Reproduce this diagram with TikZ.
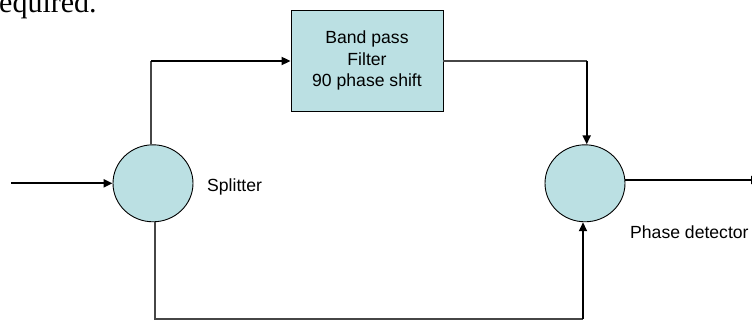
\documentclass[tikz,border=0pt]{standalone}
\usepackage{fontspec}
\setmainfont{Liberation Sans}
\newfontfamily\serifface{Liberation Serif}
\usetikzlibrary{arrows.meta,shapes.geometric}
\definecolor{boxfill}{RGB}{187,224,227}
\definecolor{linegray}{RGB}{70,70,70}
\tikzset{
  blockfill/.style={draw=black, line width=0.9pt, fill=boxfill},
  roundnode/.style={blockfill, ellipse, minimum width=80pt, minimum height=77pt, inner sep=0pt},
  filterbox/.style={blockfill, rectangle, minimum width=152pt, minimum height=101pt, align=center, font=\fontsize{17.6}{21.5}\selectfont},
  lbl/.style={font=\fontsize{17.6}{21}\selectfont, inner sep=0pt, anchor=base west},
  thinline/.style={draw=linegray, line width=1.2pt},
  arrowline/.style={draw=black, line width=2pt, -{Triangle[length=9pt,width=8pt]}},
}
\begin{document}
\begin{tikzpicture}[x=1pt,y=-1pt]
\useasboundingbox (0,0) rectangle (752,320);
% cropped caption text
\node[anchor=base west, inner sep=0pt, font=\serifface\fontsize{30}{30}\selectfont] (cap) at (-11,13) {required.};
% nodes
\node[roundnode] (spl) at (153,183.3) {};
\node[roundnode] (pd) at (585,183.3) {};
\node[filterbox] (bpf) at (367,60.5) {Band pass\\Filter\\90 phase shift};
\node[lbl] (splt) at (207,192) {Splitter};
\node[lbl] (pdt) at (630,239) {Phase detector};
% helper coordinates
\coordinate (inp) at (11,183.3);
\coordinate (upc) at (151,61);
\coordinate (rc) at (586.7,61);
\coordinate (dl) at (155,319);
\coordinate (dr) at (583,319);
\coordinate (outp) at (760,180);
% input arrow
\draw[arrowline] (inp) -- (spl.west);
% splitter to filter
\draw[thinline] (spl.north -| upc) -- (upc);
\draw[arrowline] (upc) -- (upc -| bpf.west);
% filter to phase detector
\draw[thinline] (bpf.east |- rc) -- (rc);
\draw[arrowline] (rc) -- (rc |- pd.north);
% splitter to phase detector (bottom)
\draw[thinline] (spl.south -| dl) -- (dl) -- (dr);
\draw[arrowline] (dr) -- (dr |- pd.south);
% output
\draw[arrowline] (pd.east |- outp) -- (outp);
\end{tikzpicture}
\end{document}
